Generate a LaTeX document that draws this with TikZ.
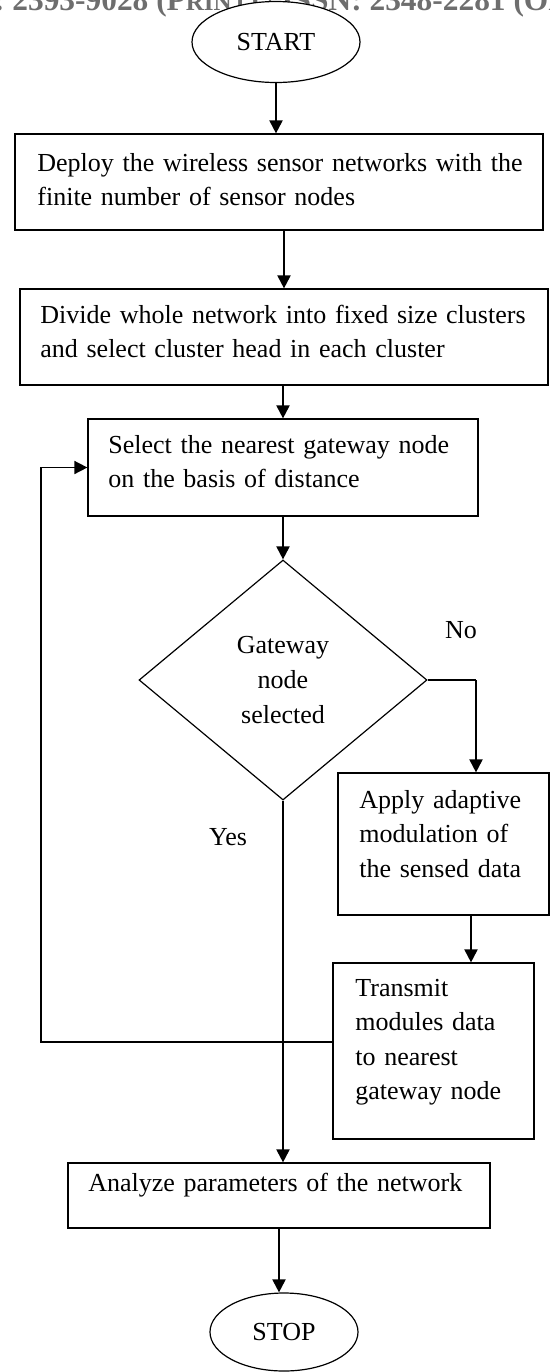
\documentclass[tikz,border=0pt]{standalone}
\usepackage{fontspec}
\setmainfont{Liberation Serif}
\usepackage{xcolor}
\usetikzlibrary{shapes.geometric,arrows.meta,calc}
\definecolor{headgray}{RGB}{110,110,110}
\tikzset{>={Triangle[length=6.5pt,width=6.5pt]}}
\tikzset{
	flowbox/.style={draw,line width=0.6pt,inner sep=0pt},
	flowtext/.style={anchor=base west,inner sep=0pt,text width=300pt,align=left,font=\fontsize{13}{17.25}\selectfont},
	flowlabel/.style={inner sep=0pt,font=\fontsize{13}{16}\selectfont},
	terminal/.style={draw,ellipse,line width=0.6pt,fill=white,inner sep=0pt,font=\fontsize{13}{16}\selectfont},
	flowline/.style={->,line width=1pt},
}
\begin{document}
\begin{tikzpicture}[x=0.5pt,y=-0.5pt]
		\def\px{0.5pt}
		\useasboundingbox (0,0) rectangle (550,1372);
		\clip (0,0) rectangle (550,1372);
		\node[anchor=base west,inner sep=0pt,text=headgray,font=\fontsize{15.7}{16}\selectfont\bfseries] (header) at (12,10) {\llap{ISSN: }2393-9028 (P{\fontsize{12.5}{13}\selectfont RINT}) | ISSN: 2348-2281 (ONLINE)};
		\node[terminal,minimum width=168*\px,minimum height=81*\px] (start) at (276,42) {START};
		\node[flowbox,minimum width=528*\px,minimum height=96*\px] (deploy) at (279,182) {};
		\node[flowtext] (deploytxt) at (37,171) {Deploy the wireless sensor networks with the\\finite number of sensor nodes};
		\node[flowbox,minimum width=528*\px,minimum height=96*\px] (divide) at (284,337) {};
		\node[flowtext] (dividetxt) at (40,323) {Divide whole network into fixed size clusters\\and select cluster head in each cluster};
		\node[flowbox,minimum width=390*\px,minimum height=97*\px] (select) at (283,467.5) {};
		\node[flowtext] (selecttxt) at (108,453) {Select the nearest gateway node\\on the basis of distance};
		\node[draw,diamond,line width=0.6pt,minimum width=288*\px,minimum height=240*\px,inner sep=0pt,align=center,font=\fontsize{13}{17.5}\selectfont] (check) at (283,680) {Gateway\\node\\selected};
		\node[flowlabel] (nolbl) at (461,630) {No};
		\node[flowlabel] (yeslbl) at (228,837) {Yes};
		\node[flowbox,minimum width=211*\px,minimum height=142*\px] (modulate) at (443.5,844) {};
		\node[flowtext] (modulatetxt) at (359,808) {Apply adaptive\\modulation of\\the sensed data};
		\node[flowbox,minimum width=201*\px,minimum height=176*\px] (transmit) at (433.5,1051) {};
		\node[flowtext] (transmittxt) at (355,996) {Transmit\\modules data\\to nearest\\gateway node};
		\node[flowbox,minimum width=422*\px,minimum height=65*\px] (analyze) at (279,1195.5) {};
		\node[flowtext] (analyzetxt) at (88,1191) {Analyze parameters of the network};
		\node[terminal,minimum width=148*\px,minimum height=78*\px] (stop) at (284,1332) {STOP};
		\coordinate (noturn) at (476,680);
		\coordinate (handoff) at (471,940);
		\coordinate (loopback) at (41,1042);
		\draw[flowline] (start.south) -- (start.south |- deploy.north);
		\draw[flowline] (deploy.south -| divide.north) -- (divide.north);
		\draw[flowline] (divide.south -| select.north) -- (select.north);
		\draw[flowline] (select.south) -- (check.north);
		\draw[line width=0.6pt] (check.east) -- (noturn);
		\draw[flowline] (noturn) -- (noturn |- modulate.north);
		\draw[flowline] (handoff |- modulate.south) -- (handoff |- transmit.north);
		\draw[flowline] (check.south) -- (check.south |- analyze.north);
		\draw[flowline,line width=0.8pt] (loopback -| transmit.west) -- (loopback) |- (select.west);
		\draw[flowline] (analyze.south) -- (analyze.south |- stop.north);
	\end{tikzpicture}
\end{document}
